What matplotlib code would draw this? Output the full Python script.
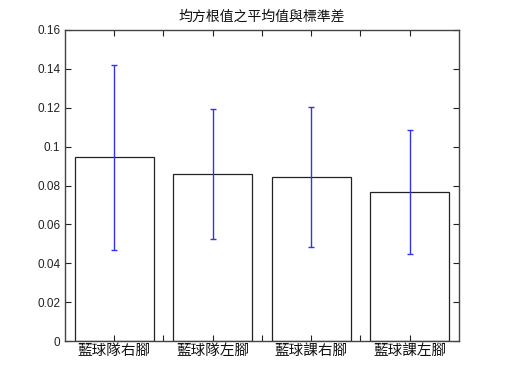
import matplotlib
matplotlib.use("Agg")
import matplotlib.pyplot as plt
import numpy as np

categories = ["藍球隊右腳", "藍球隊左腳", "藍球課右腳", "藍球課左腳"]
means = [0.0945, 0.0858, 0.0842, 0.0767]
stds = [0.0476, 0.0334, 0.0360, 0.0318]
yticks = [0, 0.02, 0.04, 0.06, 0.08, 0.1, 0.12, 0.14, 0.16]
ytick_labels = ["0", "0.02", "0.04", "0.06", "0.08", "0.1", "0.12", "0.14", "0.16"]
title = "均方根值之平均值與標準差"

cjk = ["Noto Sans CJK TC", "DejaVu Sans"]

fig = plt.figure(figsize=(5.24, 3.69), dpi=100)
ax = fig.add_axes([65/524, 28/369, 394/524, 311/369])
x = np.arange(1, len(categories) + 1)
ax.bar(x, means, width=0.8, facecolor="white", edgecolor="#222222", linewidth=0.9)
ax.errorbar(x, means, yerr=stds, fmt="none", ecolor="#3333ee", elinewidth=1.0,
            capsize=2.5, capthick=1.0)
ax.set_xlim(0.5, 4.5)
ax.set_ylim(0, 0.16)
ax.set_yticks(yticks)
ax.set_yticklabels(ytick_labels, family=["Liberation Sans"], fontsize=8.5, color="#222222")
ax.set_xticks(x)
ax.set_xticklabels(categories, family=cjk, fontsize=10.5, color="#111111")
ax.set_xticks(np.arange(1.5, 4.5, 1.0), minor=True)
ax.tick_params(axis="both", which="both", direction="in", top=True, right=True,
               length=4, width=0.8, color="#222222")
ax.tick_params(axis="x", which="major", pad=2)
for s in ax.spines.values():
    s.set_color("#444444")
    s.set_linewidth(1.0)
ax.set_title(title, family=cjk, fontsize=10, pad=7, color="#111111")
fig.savefig("out.png", dpi=100)
